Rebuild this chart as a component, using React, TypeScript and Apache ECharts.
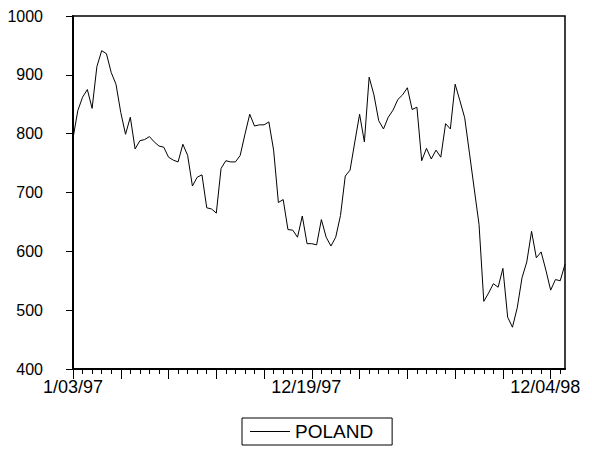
import React, { useEffect, useRef } from "react";
import * as echarts from "echarts";

const polandValues: number[] = [
  792, 839, 862, 875, 843, 914, 941, 936, 904, 884,
  836, 799, 828, 774, 788, 790, 795, 786, 779, 777,
  760, 755, 752, 782, 763, 711, 726, 730, 674, 672,
  665, 741, 754, 752, 752, 763, 799, 833, 813, 815,
  815, 820, 772, 683, 688, 637, 636, 624, 660, 613,
  613, 611, 654, 624, 609, 624, 661, 728, 738, 786,
  833, 786, 896, 866, 822, 808, 828, 840, 858, 866,
  878, 841, 845, 754, 775, 757, 772, 760, 817, 808,
  884, 856, 827, 767, 706, 646, 515, 529, 545, 539,
  571, 488, 471, 504, 555, 582, 634, 589, 599, 568,
  534, 552, 550, 578,
];

const seriesName = "POLAND";

// weekly date categories starting 1/03/97
const categories: string[] = polandValues.map((_, i) => {
  const d = new Date(1997, 0, 3 + 7 * i);
  const m = d.getMonth() + 1;
  const dd = String(d.getDate()).padStart(2, "0");
  const yy = String(d.getFullYear()).slice(2);
  return `${m}/${dd}/${yy}`;
});

const labeledTicks: string[] = ["1/03/97", "12/19/97", "12/04/98"];

const yMin = 400;
const yMax = 1000;
const yStep = 100;

const FONT = "'Liberation Sans', Arial, sans-serif";

export default function App() {
  const ref = useRef<HTMLDivElement>(null);

  useEffect(() => {
    document.body.style.margin = "0";
    if (!ref.current) return;
    const chart = echarts.init(ref.current, undefined, { renderer: "svg" });
    chart.setOption({
      animation: false,
      backgroundColor: "#fff",
      textStyle: { fontFamily: FONT, color: "#000" },
      grid: {
        left: 73,
        right: 27,
        top: 16,
        bottom: 81,
        show: true,
        borderColor: "#000",
        borderWidth: 1.5,
        backgroundColor: "transparent",
        containLabel: false,
        outerBoundsMode: "none",
      },
      legend: {
        data: [seriesName],
        left: 242,
        top: 418,
        icon: "rect",
        itemWidth: 40,
        itemHeight: 1,
        borderColor: "#000",
        borderWidth: 1,
        borderRadius: 0,
        padding: [4, 19, 4, 8],
        itemStyle: { color: "#000" },
        textStyle: { fontSize: 19, color: "#000", fontFamily: FONT },
      },
      xAxis: [
        {
          type: "category",
          data: categories,
          boundaryGap: false,
          axisLine: { show: true, lineStyle: { color: "#000", width: 2 } },
          axisTick: {
            show: true,
            length: 5,
            interval: (i: number) => i % 2 === 0,
            lineStyle: { color: "#000", width: 1 },
          },
          axisLabel: {
            interval: (_i: number, v: string) => labeledTicks.includes(v),
            fontSize: 18,
            color: "#000",
            fontFamily: FONT,
            margin: 9,
            formatter: (v: string, i: number) => (i === 0 ? v : `{s|${v}}`),
            rich: {
              s: { padding: [0, 11, 0, 0], fontSize: 18, color: "#000", fontFamily: FONT },
            },
          },
          splitLine: { show: false },
        },
        {
          type: "category",
          data: categories,
          boundaryGap: false,
          position: "bottom",
          axisLine: { show: false },
          axisTick: {
            show: true,
            length: 10,
            interval: (i: number) => i % 10 === 0,
            lineStyle: { color: "#000", width: 1 },
          },
          axisLabel: { show: false },
          splitLine: { show: false },
        },
      ],
      yAxis: {
        type: "value",
        min: yMin,
        max: yMax,
        interval: yStep,
        axisLine: { show: true, lineStyle: { color: "#000", width: 2 } },
        axisTick: { show: true, length: 7, lineStyle: { color: "#000", width: 1 } },
        axisLabel: {
          fontSize: 16,
          color: "#000",
          fontFamily: FONT,
          margin: 30,
          formatter: (v: number) => String(v),
        },
        splitLine: { show: false },
      },
      series: [
        {
          name: seriesName,
          type: "line",
          data: polandValues,
          xAxisIndex: 0,
          symbol: "none",
          lineStyle: { color: "#000", width: 1 },
          itemStyle: { color: "#000" },
        },
      ],
    });
    return () => chart.dispose();
  }, []);

  return <div ref={ref} style={{ width: 592, height: 450 }} />;
}
